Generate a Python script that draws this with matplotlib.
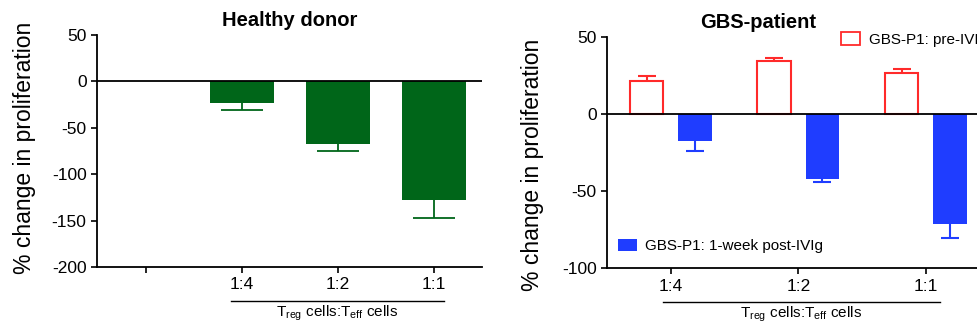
import matplotlib

matplotlib.use("Agg")
import matplotlib.pyplot as plt
import numpy as np
from matplotlib.patches import Patch
from matplotlib.lines import Line2D

plt.rcParams["font.family"] = ["Liberation Sans", "DejaVu Sans"]
plt.rcParams["mathtext.fontset"] = "custom"
plt.rcParams["mathtext.rm"] = "Liberation Sans"
plt.rcParams["axes.unicode_minus"] = False

# --- data -------------------------------------------------------------
ratios = ["1:4", "1:2", "1:1"]

healthy_mean = [-23.5, -67.0, -128.0]
healthy_err = [7.5, 8.5, 19.0]

pre_ivig_mean = [21.5, 34.0, 26.5]
pre_ivig_err = [2.8, 2.2, 2.6]
post_ivig_mean = [-17.5, -42.0, -71.0]
post_ivig_err = [6.3, 2.4, 9.2]

GREEN = "#006619"
RED = "#ff2a2a"
BLUE = "#1f3dff"

fig = plt.figure(figsize=(9.77, 3.27), dpi=100)
W, H = 977, 327


def px_axes(x0, x1, ytop, ybot):
    return fig.add_axes([x0 / W, 1 - ybot / H, (x1 - x0) / W, (ybot - ytop) / H])


def style_axes(ax):
    for side in ("top", "right"):
        ax.spines[side].set_visible(False)
    for side in ("left", "bottom"):
        ax.spines[side].set_linewidth(1.3)
    ax.tick_params(axis="both", direction="out", length=4, width=1.2, labelsize=12.5)
    ax.axhline(0, color="black", lw=1.3, zorder=3)


def one_sided_err(ax, xs, means, errs, color, sign, cap_pt, lw):
    means = np.asarray(means)
    ends = means + sign * np.asarray(errs)
    ax.vlines(xs, means, ends, color=color, lw=lw, zorder=2)
    ax.plot(xs, ends, ls="none", marker="_", markersize=cap_pt,
            markeredgewidth=lw, color=color, zorder=2)


def bracket(ax, x0, x1, y_line, y_text):
    ax.add_line(Line2D([x0, x1], [y_line, y_line], color="black", lw=1.0,
                       transform=ax.get_xaxis_transform(), clip_on=False))
    ax.text((x0 + x1) / 2, y_text,
            r"T$_{\mathregular{reg}}$ cells:T$_{\mathregular{eff}}$ cells",
            transform=ax.get_xaxis_transform(), ha="center", va="center", fontsize=11)


# --- Healthy donor ----------------------------------------------------
ax1 = px_axes(97, 482, 35, 267)
x1 = np.arange(1, len(ratios) + 1)
ax1.bar(x1, healthy_mean, width=0.67, color=GREEN, zorder=2)
one_sided_err(ax1, x1, healthy_mean, healthy_err, GREEN, -1, 30, 1.3)
ax1.set_xlim(-0.51, 3.5)
ax1.set_ylim(-200, 50)
ax1.set_yticks([50, 0, -50, -100, -150, -200])
ax1.set_xticks([0, 1, 2, 3])
ax1.set_xticklabels([""] + ratios)
style_axes(ax1)
bracket(ax1, 0.89, 3.1, -0.145, -0.2)
fig.text(290 / W, 1 - 20 / H, "Healthy donor", ha="center", va="center",
         fontsize=14.5, fontweight="bold")
fig.text(25 / W, 1 - 148 / H, "% change in proliferation", rotation=90,
         ha="center", va="center", fontsize=16.5)

# --- GBS patient ------------------------------------------------------
ax2 = px_axes(607, 607 + 382.5, 36.7, 268.3)
x2 = np.arange(len(ratios))
off, bw = 0.19, 0.26
ax2.bar(x2 - off, pre_ivig_mean, width=bw, facecolor="white", edgecolor=RED,
        linewidth=1.5, zorder=2)
one_sided_err(ax2, x2 - off, pre_ivig_mean, pre_ivig_err, RED, 1, 12.7, 1.5)
ax2.bar(x2 + off, post_ivig_mean, width=bw, color=BLUE, zorder=2)
one_sided_err(ax2, x2 + off, post_ivig_mean, post_ivig_err, BLUE, -1, 12.7, 1.5)
ax2.set_xlim(-0.5, 2.5)
ax2.set_ylim(-100, 50)
ax2.set_yticks([50, 0, -50, -100])
ax2.set_xticks(x2)
ax2.set_xticklabels(ratios)
style_axes(ax2)
bracket(ax2, -0.06, 2.11, -0.145, -0.2)
fig.text(758 / W, 1 - 23 / H, "GBS-patient", ha="center", va="center",
         fontsize=14.5, fontweight="bold")
fig.text(532 / W, 1 - 165 / H, "% change in proliferation", rotation=90,
         ha="center", va="center", fontsize=16.5)

leg_pre = ax2.legend(handles=[Patch(facecolor="white", edgecolor=RED, linewidth=1.3,
                                    label="GBS-P1: pre-IVIg")],
                     loc="upper left", bbox_to_anchor=(0.612, 1.02), frameon=False,
                     borderpad=0, borderaxespad=0, handlelength=1.25, handleheight=0.9,
                     handletextpad=0.55, fontsize=11)
ax2.add_artist(leg_pre)
ax2.legend(handles=[Patch(facecolor=BLUE, label="GBS-P1: 1-week post-IVIg")],
           loc="lower left", bbox_to_anchor=(0.028, 0.065), frameon=False,
           borderpad=0, borderaxespad=0, handlelength=1.25, handleheight=0.9,
           handletextpad=0.55, fontsize=11)

fig.savefig("out.png", dpi=100)
